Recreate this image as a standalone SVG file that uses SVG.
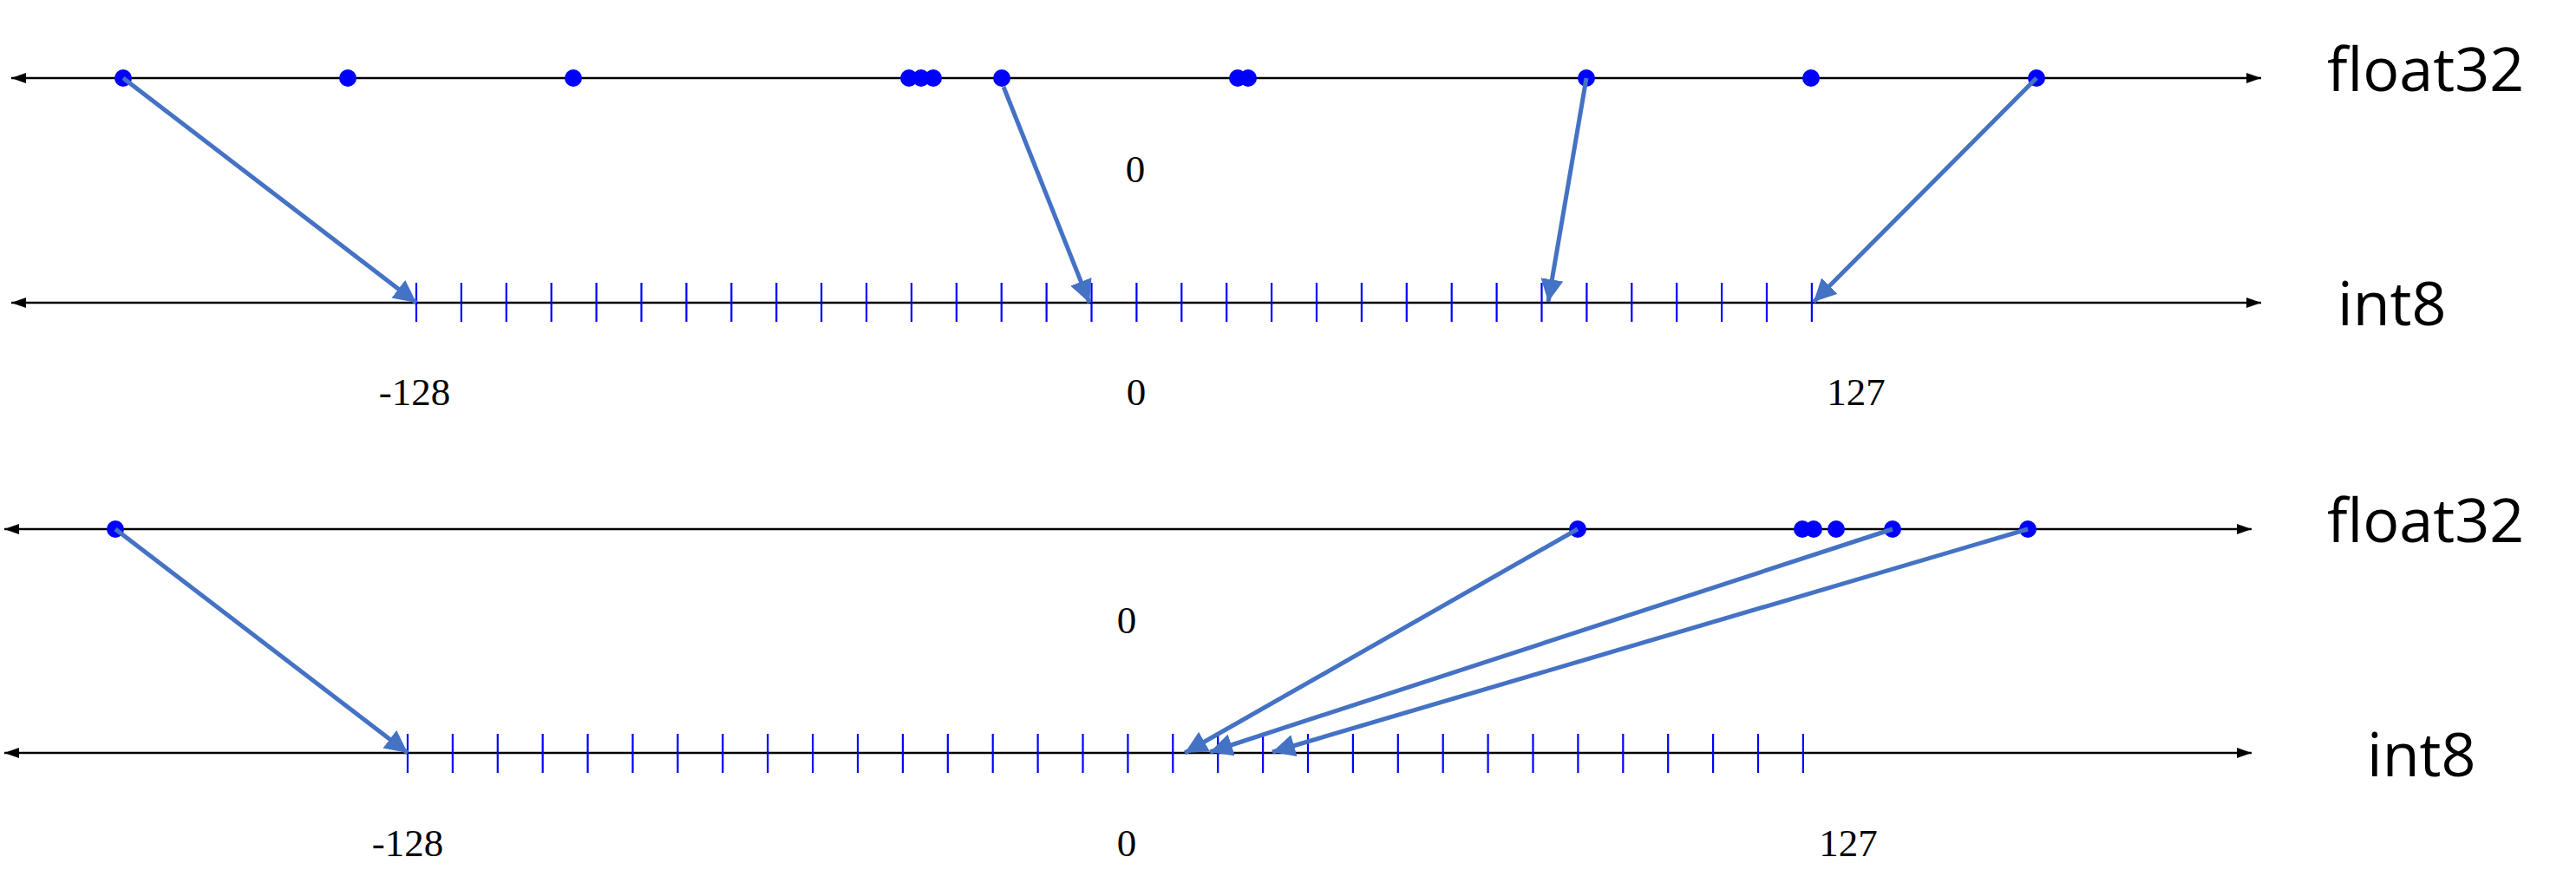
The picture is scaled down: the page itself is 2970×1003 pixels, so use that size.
<svg xmlns="http://www.w3.org/2000/svg" width="2970" height="1003" viewBox="0 0 2970 1003">
<style>
.axis{stroke:#000;stroke-width:2.4;fill:none;marker-start:url(#ah);marker-end:url(#ah)}
.tick{stroke:#0000FF;stroke-width:2.2}
.dot{fill:#0000FF}
.conn{stroke:#4472C4;stroke-width:5;fill:none;marker-end:url(#bh)}
.lab{font-family:"Open Sans","Liberation Sans",sans-serif;font-size:70px;fill:#000}
.num{font-family:"Liberation Serif","DejaVu Serif",serif;font-size:45px;fill:#000;text-anchor:middle}
</style>
<defs>
<marker id="ah" markerUnits="userSpaceOnUse" markerWidth="18" markerHeight="14" refX="17" refY="7" orient="auto-start-reverse">
<path d="M0,1 L17,7 L0,13 z" fill="#000"/>
</marker>
<marker id="bh" markerUnits="userSpaceOnUse" markerWidth="28" markerHeight="26" refX="26" refY="13" orient="auto">
<path d="M0,0 L26,13 L0,26 z" fill="#4472C4"/>
</marker>
</defs>
<rect width="2970" height="1003" fill="#fff"/>

<g id="top-float32">
<line class="axis" x1="13" y1="90" x2="2607" y2="90"/>
<g class="dot">
<circle cx="142" cy="90" r="10"/><circle cx="401" cy="90" r="10"/><circle cx="661" cy="90" r="10"/>
<circle cx="1048" cy="90" r="10"/><circle cx="1062" cy="90" r="10"/><circle cx="1076" cy="90" r="10"/>
<circle cx="1155" cy="90" r="10"/><circle cx="1427" cy="90" r="10"/><circle cx="1439" cy="90" r="10"/>
<circle cx="1829" cy="90" r="10"/><circle cx="2088" cy="90" r="10"/><circle cx="2348" cy="90" r="10"/>
</g>
<text class="lab" x="2683" y="105">float32</text>
<text class="num" x="1309" y="210">0</text>
</g>

<g id="top-int8">
<line class="axis" x1="13" y1="349" x2="2607" y2="349"/>
<path class="tick" d="M480,326v45M531.9,326v45M583.8,326v45M635.7,326v45M687.6,326v45M739.5,326v45M791.4,326v45M843.3,326v45M895.2,326v45M947.1,326v45M999,326v45M1050.9,326v45M1102.8,326v45M1154.7,326v45M1206.6,326v45M1258.5,326v45M1310.4,326v45M1362.3,326v45M1414.2,326v45M1466.1,326v45M1518,326v45M1569.9,326v45M1621.8,326v45M1673.7,326v45M1725.6,326v45M1777.5,326v45M1829.4,326v45M1881.3,326v45M1933.2,326v45M1985.1,326v45M2037,326v45M2088.9,326v45"/>
<text class="lab" x="2695" y="375">int8</text>
<text class="num" x="478" y="467">-128</text>
<text class="num" x="1310" y="467">0</text>
<text class="num" x="2140" y="467">127</text>
</g>

<g id="bottom-float32">
<line class="axis" x1="5" y1="610" x2="2596" y2="610"/>
<g class="dot">
<circle cx="133" cy="610" r="10"/><circle cx="1819" cy="610" r="10"/>
<circle cx="2078" cy="610" r="10"/><circle cx="2091" cy="610" r="10"/><circle cx="2117" cy="610" r="10"/>
<circle cx="2182" cy="610" r="10"/><circle cx="2338" cy="610" r="10"/>
</g>
<text class="lab" x="2683" y="625">float32</text>
<text class="num" x="1299" y="730">0</text>
</g>

<g id="bottom-int8">
<line class="axis" x1="5" y1="868" x2="2596" y2="868"/>
<path class="tick" d="M470,846v45M521.9,846v45M573.8,846v45M625.7,846v45M677.6,846v45M729.5,846v45M781.4,846v45M833.3,846v45M885.2,846v45M937.1,846v45M989,846v45M1040.9,846v45M1092.8,846v45M1144.7,846v45M1196.6,846v45M1248.5,846v45M1300.4,846v45M1352.3,846v45M1404.2,846v45M1456.1,846v45M1508,846v45M1559.9,846v45M1611.8,846v45M1663.7,846v45M1715.6,846v45M1767.5,846v45M1819.4,846v45M1871.3,846v45M1923.2,846v45M1975.1,846v45M2027,846v45M2078.9,846v45"/>
<text class="lab" x="2729" y="895">int8</text>
<text class="num" x="470" y="987">-128</text>
<text class="num" x="1299" y="987">0</text>
<text class="num" x="2131" y="987">127</text>
</g>

<g id="connectors">
<line class="conn" x1="142" y1="90" x2="480" y2="349"/>
<line class="conn" x1="1157" y1="100" x2="1256" y2="349"/>
<line class="conn" x1="1829" y1="90" x2="1785" y2="348"/>
<line class="conn" x1="2348" y1="90" x2="2091" y2="348"/>
<line class="conn" x1="133" y1="610" x2="470" y2="868"/>
<line class="conn" x1="1819" y1="610" x2="1366" y2="868"/>
<line class="conn" x1="2182" y1="610" x2="1395" y2="867"/>
<line class="conn" x1="2338" y1="610" x2="1467" y2="867"/>
</g>
</svg>
